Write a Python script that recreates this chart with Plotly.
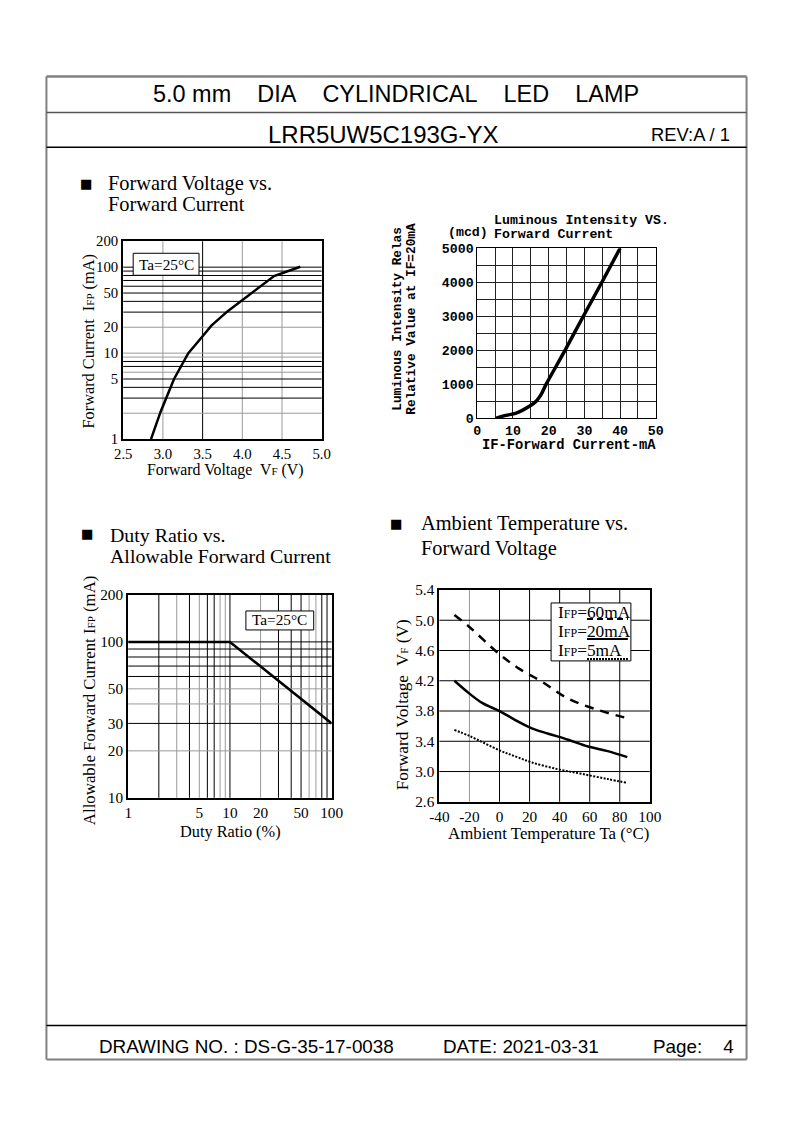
import math
import plotly.graph_objects as go

# Figure size and the page-to-figure mapping (the viewer shows the figure
# centred and slightly reduced, so page positions are mapped accordingly).
FW, FH = 778, 1107
CX, CY = 396.5, 561.5
SX, SY = 0.9743, 0.9846
FS = 1.02  # font scale
SERIF = "Liberation Serif"
SANS = "Liberation Sans"
MONO = "Liberation Mono"

# ---------------- data ----------------
# Forward Voltage vs Forward Current
fv_volt = [2.85, 2.97, 3.14, 3.32, 3.50, 3.61, 3.82, 4.01, 4.20, 4.40, 4.73]
fv_curr = [1, 2.07, 5, 10, 15.7, 20.9, 31, 42.4, 57.7, 78.7, 101]
fv_xticks = [2.5, 3.0, 3.5, 4.0, 4.5, 5.0]
fv_xlabels = ["2.5", "3.0", "3.5", "4.0", "4.5", "5.0"]
fv_yticks = [1, 5, 10, 20, 50, 100, 200]
fv_ylabels = ["1", "5", "10", "20", "50", "100", "200"]
fv_xgrid_black = [3.5]
fv_xgrid_gray = [3.0, 4.0, 4.5]
fv_ygrid_black = [3, 4, 5, 7, 8, 30, 40, 50, 60, 70, 80, 90, 100]
fv_ygrid_gray = [2, 6, 9, 10, 20]

# Luminous Intensity vs Forward Current
li_curr = [5.3, 8, 10.9, 14.6, 16.5, 17.9, 19.3, 24.6, 29.7, 34.9, 40]
li_mcd = [0, 80, 150, 350, 500, 700, 1000, 2000, 3000, 4000, 5000]
li_xticks = [0, 10, 20, 30, 40, 50]
li_yticks = [0, 1000, 2000, 3000, 4000, 5000]

# Duty Ratio vs Allowable Forward Current
dr_duty = [1, 10, 100]
dr_curr = [100, 100, 30]
dr_xticks = [1, 5, 10, 20, 50, 100]
dr_yticks = [10, 20, 30, 50, 100, 200]
dr_xgrid_black = [2, 4, 6, 7, 10, 30, 40, 50, 80, 90]
dr_xgrid_gray = [3, 5, 8, 9, 20, 60, 70]
dr_ygrid_black = [30, 60, 70, 80, 90, 100]
dr_ygrid_gray = [20, 40, 50]

# Ambient Temperature vs Forward Voltage
at_t60 = [-30, -20, 0, 13, 28, 45, 63, 84]
at_v60 = [5.07, 4.91, 4.55, 4.36, 4.19, 3.97, 3.83, 3.71]
at_t20 = [-30, -20, -11, 0, 10.5, 21.5, 32.5, 45.7, 58.9, 72, 85]
at_v20 = [4.20, 4.03, 3.90, 3.80, 3.68, 3.57, 3.50, 3.42, 3.33, 3.27, 3.19]
at_t5 = [-30, -20, 0, 10.5, 21.5, 39, 54.5, 72, 85]
at_v5 = [3.55, 3.47, 3.28, 3.20, 3.12, 3.03, 2.97, 2.90, 2.85]
at_xticks = [-40, -20, 0, 20, 40, 60, 80, 100]
at_yticks = [2.6, 3.0, 3.4, 3.8, 4.2, 4.6, 5.0, 5.4]
at_xgrid_black = [0, 20, 40, 60, 80]
at_xgrid_gray = [-20]
at_ygrid_black = [3.0, 3.4, 3.8, 4.2, 4.6, 5.0]


def px(x):
    return (FW / 2 + (x - CX) / SX) / FW


def py(y):
    return 1 - (FH / 2 + (y - CY) / SY) / FH


def dx(x0, x1):
    return [px(x0), px(x1)]


def dy(y0, y1):
    return [py(y1), py(y0)]


def F(size, family=SERIF, weight="normal"):
    return dict(family=family, size=size * FS, color="black", weight=weight)


fig = go.Figure()
common = dict(mode="lines", showlegend=False, hoverinfo="skip")
fig.add_trace(go.Scatter(x=fv_volt, y=fv_curr, xaxis="x", yaxis="y",
                         line=dict(color="black", width=2.5), **common))
fig.add_trace(go.Scatter(x=li_curr, y=li_mcd, xaxis="x2", yaxis="y2",
                         line=dict(color="black", width=3.5, shape="spline"), **common))
fig.add_trace(go.Scatter(x=dr_duty, y=dr_curr, xaxis="x3", yaxis="y3",
                         line=dict(color="black", width=2.5), **common))
fig.add_trace(go.Scatter(x=at_t60, y=at_v60, xaxis="x4", yaxis="y4",
                         line=dict(color="black", width=2.5, dash="9px,7px", shape="spline"), **common))
fig.add_trace(go.Scatter(x=at_t20, y=at_v20, xaxis="x4", yaxis="y4",
                         line=dict(color="black", width=2.5, shape="spline"), **common))
fig.add_trace(go.Scatter(x=at_t5, y=at_v5, xaxis="x4", yaxis="y4",
                         line=dict(color="black", width=2, dash="2px,1.5px", shape="spline"), **common))


def axis(domain, anchor, **kw):
    d = dict(domain=domain, anchor=anchor, showgrid=False, zeroline=False,
             showline=True, mirror=True, linecolor="black", linewidth=2,
             ticks="", fixedrange=True, tickfont=F(14))
    d.update(kw)
    return d


layout = dict(
    width=FW, height=FH, autosize=False, margin=dict(l=0, r=0, t=0, b=0),
    paper_bgcolor="white", plot_bgcolor="rgba(0,0,0,0)",
    showlegend=False,
    xaxis=axis(dx(123, 322), "y", range=[2.5, 5.0], tickmode="array",
               tickvals=fv_xticks, ticktext=fv_xlabels, tickfont=F(14.5)),
    yaxis=axis(dy(241, 439), "x", type="log", range=[0, math.log10(200)],
               tickmode="array", tickvals=fv_yticks, ticktext=fv_ylabels,
               tickfont=F(14.5)),
    xaxis2=axis(dx(478, 657), "y2", range=[0, 50], tickmode="array",
                tickvals=li_xticks, linewidth=1, showgrid=True,
                gridcolor="#222", gridwidth=1,
                minor=dict(tickmode="linear", tick0=0, dtick=5, showgrid=True,
                           gridcolor="#222", gridwidth=1),
                tickfont=F(13, MONO, "bold")),
    yaxis2=axis(dy(248, 418), "x2", range=[0, 5000], tickmode="array",
                tickvals=li_yticks, linewidth=1, showgrid=True,
                gridcolor="#222", gridwidth=1,
                minor=dict(tickmode="linear", tick0=0, dtick=500, showgrid=True,
                           gridcolor="#222", gridwidth=1),
                tickfont=F(13, MONO, "bold")),
    xaxis3=axis(dx(128, 332), "y3", type="log", range=[0, 2], tickmode="array",
                tickvals=dr_xticks, ticktext=[str(v) for v in dr_xticks],
                tickfont=F(15)),
    yaxis3=axis(dy(595, 798), "x3", type="log", range=[1, math.log10(200)],
                tickmode="array", tickvals=dr_yticks,
                ticktext=[str(v) for v in dr_yticks], tickfont=F(15)),
    xaxis4=axis(dx(440, 651), "y4", range=[-40, 100], tickmode="array",
                tickvals=at_xticks, ticktext=[str(v) for v in at_xticks],
                tickfont=F(15)),
    yaxis4=axis(dy(590, 802), "x4", range=[2.6, 5.4], tickmode="array",
                tickvals=at_yticks, ticktext=["%.1f" % v for v in at_yticks],
                tickfont=F(15)),
)

shapes = []


def vgrid(xref, yref, vals, color):
    for v in vals:
        shapes.append(dict(type="line", xref=xref, yref=yref + " domain",
                           x0=v, x1=v, y0=0, y1=1, layer="below",
                           line=dict(color=color, width=1)))


def hgrid(xref, yref, vals, color):
    for v in vals:
        shapes.append(dict(type="line", xref=xref + " domain", yref=yref,
                           x0=0, x1=1, y0=v, y1=v, layer="below",
                           line=dict(color=color, width=1)))


GRAY = "#9a9a9a"
vgrid("x", "y", fv_xgrid_gray, GRAY)
vgrid("x", "y", fv_xgrid_black, "black")
hgrid("x", "y", fv_ygrid_gray, GRAY)
hgrid("x", "y", fv_ygrid_black, "black")
vgrid("x3", "y3", dr_xgrid_gray, GRAY)
vgrid("x3", "y3", dr_xgrid_black, "black")
hgrid("x3", "y3", dr_ygrid_gray, GRAY)
hgrid("x3", "y3", dr_ygrid_black, "black")
vgrid("x4", "y4", at_xgrid_gray, GRAY)
vgrid("x4", "y4", at_xgrid_black, "black")
hgrid("x4", "y4", at_ygrid_black, "black")


def pline(x0, y0, x1, y1, color, width, dash="solid"):
    shapes.append(dict(type="line", xref="paper", yref="paper",
                       x0=px(x0), x1=px(x1), y0=py(y0), y1=py(y1),
                       layer="above", line=dict(color=color, width=width, dash=dash)))


def prect(x0, y0, x1, y1):
    shapes.append(dict(type="rect", xref="paper", yref="paper",
                       x0=px(x0), x1=px(x1), y0=py(y1), y1=py(y0),
                       fillcolor="white", layer="above",
                       line=dict(color="black", width=1)))


FRAME = "#808080"
pline(46, 76, 748, 76, FRAME, 2.5)
pline(46, 1060, 748, 1060, FRAME, 2)
pline(46, 76, 46, 1060, FRAME, 2)
pline(748, 76, 748, 1060, FRAME, 2)
pline(46, 112, 748, 112, "#555", 1.5)
pline(46, 147, 748, 147, "black", 1.5)
pline(46, 1026, 748, 1026, "black", 1.5)

# legend boxes
prect(133, 253, 199, 275)
prect(246, 611, 314, 630)
prect(552, 603, 632, 661)
pline(588, 619, 629, 619, "black", 2, "6px,4px")
pline(588, 639, 629, 639, "black", 2)
pline(588, 659, 629, 659, "black", 2, "2px,1px")

layout["shapes"] = shapes

ann = []


def text(x, y, s, size, family=SERIF, xanchor="center", angle=0, weight="normal"):
    ann.append(dict(x=px(x), y=py(y), xref="paper", yref="paper", text=s,
                    showarrow=False, xanchor=xanchor, yanchor="middle",
                    textangle=angle, font=F(size, family, weight)))


NB = "\u00a0"
# header
text(397, 94, "5.0 mm" + NB * 4 + "DIA" + NB * 4 + "CYLINDRICAL" + NB * 4 + "LED" + NB * 4 + "LAMP", 23, SANS)
text(383, 134, "LRR5UW5C193G-YX", 23.5, SANS)
text(733, 134, "REV:A / 1", 18, SANS, xanchor="right")
# footer
text(97, 1047, "DRAWING NO. : DS-G-35-17-0038", 18.5, SANS, xanchor="left")
text(442, 1047, "DATE: 2021-03-31", 18.5, SANS, xanchor="left")
text(652, 1047, "Page:" + NB * 4 + "4", 18.5, SANS, xanchor="left")

# section headings
SQ = "\u25a0"
text(86, 183, SQ, 13, "DejaVu Sans")
text(106, 183, "Forward Voltage vs.", 20, xanchor="left")
text(106, 204, "Forward Current", 20, xanchor="left")
text(87, 533, SQ, 13, "DejaVu Sans")
text(108, 535, "Duty Ratio vs.", 19.5, xanchor="left")
text(108, 556, "Allowable Forward Current", 19.5, xanchor="left")
text(397, 523, SQ, 13, "DejaVu Sans")
text(420, 523, "Ambient Temperature vs.", 20, xanchor="left")
text(420, 548, "Forward Voltage", 20, xanchor="left")

SM = "<span style='font-size:11px'>%s</span>"
SM2 = "<span style='font-size:12px'>%s</span>"
# chart 1
text(225, 470, "Forward Voltage" + NB * 2 + "V" + SM % "F" + " (V)", 15.5)
text(88, 341, "Forward Current" + NB * 2 + "I" + SM % "FP" + " (mA)", 16, angle=-90)
text(166, 264, "Ta=25°C", 15)
# chart 2
text(469, 232, "(mcd)", 13, MONO, weight="bold")
text(493, 220, "Luminous Intensity VS.", 13, MONO, xanchor="left", weight="bold")
text(493, 234, "Forward Current", 13, MONO, xanchor="left", weight="bold")
text(398, 318, "Luminous Intensity Relas", 12.5, MONO, angle=-90, weight="bold")
text(412, 318, "Relative Value at IF=20mA", 12.5, MONO, angle=-90, weight="bold")
text(570, 445, "IF-Forward Current-mA", 13.5, MONO, weight="bold")
# chart 3
text(231, 832, "Duty Ratio (%)", 16)
text(90, 700, "Allowable Forward Current I" + SM % "FP" + " (mA)", 16.5, angle=-90)
text(280, 620, "Ta=25°C", 15)
# chart 4
text(549, 834, "Ambient Temperature Ta (°C)", 16.5)
text(403, 705, "Forward Voltage" + NB * 2 + "V" + SM % "F" + " (V)", 17, angle=-90)
text(557, 613, "I" + SM2 % "FP" + "=60mA", 17, xanchor="left")
text(557, 632, "I" + SM2 % "FP" + "=20mA", 17, xanchor="left")
text(557, 651, "I" + SM2 % "FP" + "=5mA", 17, xanchor="left")

layout["annotations"] = ann
fig.update_layout(**layout)

fig.write_html("out.html", config={"responsive": False, "displayModeBar": False})
